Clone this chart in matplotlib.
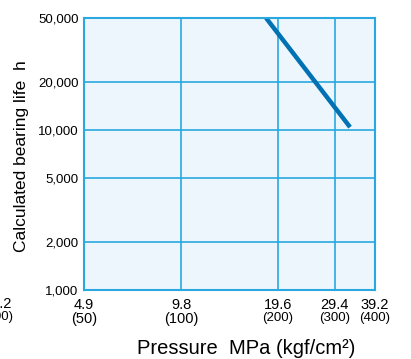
import matplotlib
matplotlib.use("Agg")
import matplotlib.pyplot as plt
from matplotlib.ticker import NullLocator, FixedLocator, NullFormatter
import matplotlib.transforms as mtransforms

plt.rcParams['font.family'] = ['Liberation Sans', 'DejaVu Sans']

# data
pressure = [18.0, 32.8]          # MPa
life = [50000, 10400]            # h

x_ticks = [4.9, 9.8, 19.6, 29.4, 39.2]
x_kgf = ['(50)', '(100)', '(200)', '(300)', '(400)']
y_ticks = [1000, 2000, 5000, 10000, 20000, 50000]
y_labels = ['1,000', '2,000', '5,000', '10,000', '20,000', '50,000']

grid_col = '#29A9E0'
line_col = '#0071B3'

fig = plt.figure(figsize=(4.11, 3.59), dpi=100)
ax = fig.add_axes([84/411, 1-290/359, (375-84)/411, (290-18)/359])
ax.set_facecolor('#EEF6FD')
ax.set_xscale('log')
ax.set_yscale('log')
ax.set_xlim(4.9, 39.2)
ax.set_ylim(1000, 50000)

ax.plot(pressure, life, color=line_col, lw=3.2, solid_capstyle='butt', clip_on=True)

ax.xaxis.set_major_locator(FixedLocator(x_ticks))
ax.xaxis.set_minor_locator(NullLocator())
ax.xaxis.set_major_formatter(NullFormatter())
ax.yaxis.set_major_locator(FixedLocator(y_ticks))
ax.yaxis.set_minor_locator(NullLocator())
ax.set_yticklabels(y_labels, fontsize=9.5)
ax.tick_params(length=0, pad=4)

ax.grid(True, color=grid_col, lw=1.2)
for s in ax.spines.values():
    s.set_color(grid_col)
    s.set_linewidth(1.5)

trans = mtransforms.blended_transform_factory(ax.transData, ax.transAxes)
for i, (xv, kg) in enumerate(zip(x_ticks, x_kgf)):
    small = i >= 2
    ax.text(xv, -0.028, f'{xv:g}', transform=trans, ha='center', va='top', fontsize=10.5)
    ax.text(xv, -0.08, kg, transform=trans, ha='center', va='top',
            fontsize=9.5 if small else 10.5)

# cut-off label from neighbouring chart at left edge
fig.text(-2/411, 1-297/359, '39.2', ha='center', va='top', fontsize=10.5)
fig.text(-2/411, 1-311/359, '(400)', ha='center', va='top', fontsize=9.5)

fig.text(22/411, 1-156/359, 'Calculated bearing life  h', rotation=90,
         ha='center', va='center', fontsize=12.5)
fig.text(246/411, 1-348/359, 'Pressure  MPa (kgf/cm\u00b2)', ha='center', va='center',
         fontsize=14.5)

fig.savefig('out.png', dpi=100)
